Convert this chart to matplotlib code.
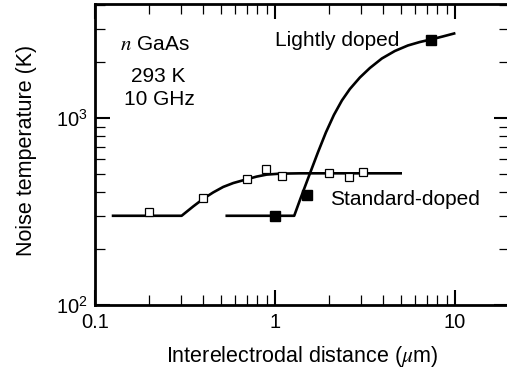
import matplotlib
matplotlib.use("Agg")
import matplotlib.pyplot as plt
from matplotlib.ticker import LogLocator, NullFormatter, FixedLocator, FixedFormatter

plt.rcParams['font.family'] = ['Liberation Sans', 'DejaVu Sans']
plt.rcParams['mathtext.fontset'] = 'stix'

# Standard-doped samples (open squares) and fitted curve
std_x = [0.20, 0.40, 0.70, 0.89, 1.10, 2.0, 2.58, 3.10]
std_y = [315, 372, 470, 532, 492, 506, 482, 516]
std_curve_x = [0.126, 0.303, 0.352, 0.400, 0.454, 0.516, 0.587, 0.696, 0.791, 0.899,
               1.066, 1.377, 2.0, 5.0]
std_curve_y = [300, 300, 337, 370, 400, 428, 449, 470, 486, 498,
               504, 506, 506, 506]

# Lightly doped samples (filled squares) and fitted curve
light_x = [1.0, 1.50, 7.36]
light_y = [300, 387, 2612]
light_curve_x = [0.54, 1.28, 1.377, 1.565, 1.733, 1.920, 2.127, 2.357, 2.610, 2.967,
                 3.372, 3.930, 4.642, 5.482, 6.392, 7.356, 8.577, 9.91]
light_curve_y = [300, 300, 364, 505, 654, 837, 1038, 1241, 1429, 1647,
                 1851, 2081, 2282, 2442, 2549, 2629, 2729, 2831]

x_ticks = [0.1, 1, 10]
x_tick_labels = ["0.1", "1", "10"]
y_ticks = [100, 1000]
y_tick_labels = ["$\\mathregular{10^2}$", "$\\mathregular{10^3}$"]

fig = plt.figure(figsize=(5.07, 3.67), dpi=100)
ax = fig.add_axes([95 / 507, 62 / 367, 414 / 507, 301 / 367])
ax.set_xscale('log')
ax.set_yscale('log')
ax.set_xlim(0.1, 20)
ax.set_ylim(100, 4070)

ax.plot(std_curve_x, std_curve_y, color='black', lw=1.9, solid_joinstyle='round', zorder=2)
ax.plot(light_curve_x, light_curve_y, color='black', lw=1.9, solid_joinstyle='round', zorder=2)
ax.plot(std_x, std_y, linestyle='none', marker='s', markersize=6.2,
        markerfacecolor='white', markeredgecolor='black', markeredgewidth=0.9, zorder=3)
ax.plot(light_x, light_y, linestyle='none', marker='s', markersize=7,
        markerfacecolor='black', markeredgecolor='black', zorder=3)

for side in ['left', 'bottom', 'top']:
    ax.spines[side].set_linewidth(2.0)
ax.spines['right'].set_visible(False)

ax.xaxis.set_major_locator(FixedLocator(x_ticks))
ax.xaxis.set_major_formatter(FixedFormatter(x_tick_labels))
ax.xaxis.set_minor_locator(LogLocator(base=10, subs=range(2, 10)))
ax.xaxis.set_minor_formatter(NullFormatter())
ax.yaxis.set_major_locator(FixedLocator(y_ticks))
ax.yaxis.set_major_formatter(FixedFormatter(y_tick_labels))
ax.yaxis.set_minor_locator(LogLocator(base=10, subs=range(2, 10)))
ax.yaxis.set_minor_formatter(NullFormatter())

ax.tick_params(which='both', direction='in', top=True, right=True, labelsize=14.5, colors='black')
ax.tick_params(which='major', length=11, width=1.5, pad=6)
ax.tick_params(which='minor', length=7.5, width=0.9)
ax.tick_params(axis='y', which='major', pad=5)

ax.set_xlabel("Interelectrodal distance ($\\mu$m)", fontsize=15.5)
ax.xaxis.set_label_coords(0.5, -0.128)
ax.set_ylabel("Noise temperature (K)", fontsize=15.5)
ax.yaxis.set_label_coords(-0.141, 0.515)

txt = dict(fontsize=15, va='baseline')
ax.text(0.138, 2310, "$n$ GaAs", ha='left', **txt)
ax.text(0.225, 1563, "293 K", ha='center', **txt)
ax.text(0.227, 1174, "10 GHz", ha='center', **txt)
ax.text(1.0, 2427, "Lightly doped", ha='left', **txt)
ax.text(2.02, 343, "Standard-doped", ha='left', **txt)

fig.savefig("out.png", dpi=100)
